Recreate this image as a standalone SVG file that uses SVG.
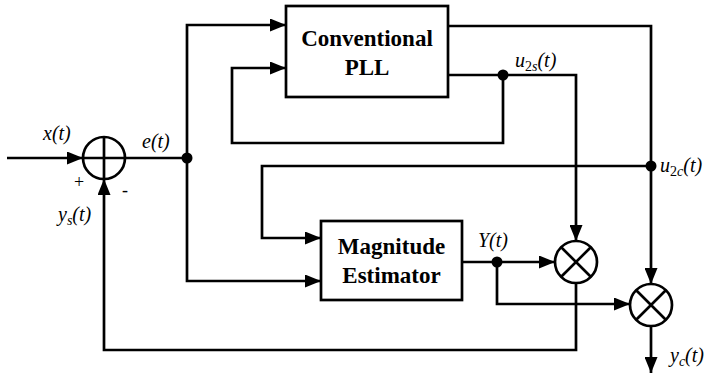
<svg xmlns="http://www.w3.org/2000/svg" width="713" height="381" viewBox="0 0 713 381">
<style>
.ln{fill:none;stroke:#000;stroke-width:2.7;stroke-linejoin:miter}
.ar{marker-end:url(#ah)}
.box{fill:#fff;stroke:#000;stroke-width:2.7}
.op{fill:#fff;stroke:#000;stroke-width:2.7}
.dot{fill:#000}
text{font-family:'Liberation Serif','Tinos','Times New Roman','DejaVu Serif',serif}
.bt{font-weight:bold;font-size:23px;text-anchor:middle}
.lb{font-style:italic;font-size:20px}
.sb{font-size:14px}
.sg{font-size:18px}
</style>
<defs>
<marker id="ah" markerUnits="userSpaceOnUse" markerWidth="17" markerHeight="13" refX="16" refY="6.5" orient="auto">
<path d="M0,0 L16,6.5 L0,13 z" fill="#000"/>
</marker>
</defs>
<g id="connectors">
<path class="ln ar" d="M7,158 H83"/>
<path class="ln" d="M125,158 H187"/>
<path class="ln ar" d="M187,158 V25 H286"/>
<path class="ln ar" d="M187,158 V281 H321"/>
<path class="ln ar" d="M503,75 V143 H232 V68 H286"/>
<path class="ln ar" d="M448,75 H576 V241"/>
<path class="ln ar" d="M448,26 H651 V284"/>
<path class="ln ar" d="M651,166 H262 V238 H321"/>
<path class="ln ar" d="M462,262 H555"/>
<path class="ln ar" d="M497,262 V304 H630"/>
<path class="ln ar" d="M576,283 V350 H104 V179"/>
<path class="ln ar" d="M651,326 V373"/>
<circle class="dot" cx="187" cy="158" r="5.5"/>
<circle class="dot" cx="503" cy="75" r="5.5"/>
<circle class="dot" cx="651" cy="166" r="5.5"/>
<circle class="dot" cx="497" cy="262" r="5.5"/>
</g>
<g id="sum">
<circle class="op" cx="104" cy="158" r="21"/>
<path class="ln" d="M83,158 H125 M104,137 V179"/>
<text class="sg" x="74" y="188">+</text>
<text class="sg" x="122" y="196">-</text>
</g>
<g id="pll">
<rect class="box" x="286" y="6" width="162" height="91"/>
<text class="bt" x="367" y="46">Conventional</text>
<text class="bt" x="367" y="75">PLL</text>
</g>
<g id="me">
<rect class="box" x="321" y="221" width="141" height="79"/>
<text class="bt" x="391.5" y="254">Magnitude</text>
<text class="bt" x="391.5" y="283">Estimator</text>
</g>
<g id="mult1">
<circle class="op" cx="576" cy="262" r="21"/>
<path class="ln" d="M561.2,247.2 L590.8,276.8 M590.8,247.2 L561.2,276.8"/>
</g>
<g id="mult2">
<circle class="op" cx="651" cy="305" r="21"/>
<path class="ln" d="M636.2,290.2 L665.8,319.8 M665.8,290.2 L636.2,319.8"/>
</g>
<g id="labels">
<text class="lb" x="43" y="140">x(t)</text>
<text class="lb" x="142" y="148">e(t)</text>
<text class="lb" x="58" y="221">y<tspan class="sb" dy="4">s</tspan><tspan dy="-4">(t)</tspan></text>
<text class="lb" x="515" y="67">u<tspan class="sb" dy="4" font-style="normal">2</tspan><tspan class="sb">s</tspan><tspan dy="-4">(t)</tspan></text>
<text class="lb" x="660" y="172">u<tspan class="sb" dy="4" font-style="normal">2</tspan><tspan class="sb">c</tspan><tspan dy="-4">(t)</tspan></text>
<text class="lb" x="478" y="247">Y(t)</text>
<text class="lb" x="670" y="362">y<tspan class="sb" dy="4">c</tspan><tspan dy="-4">(t)</tspan></text>
</g>
</svg>
